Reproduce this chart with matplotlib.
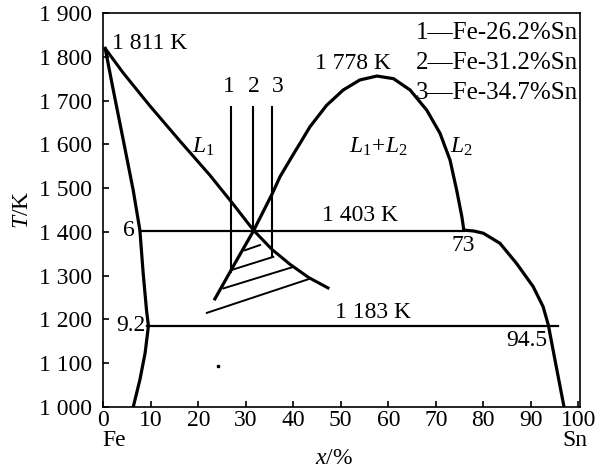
import matplotlib
matplotlib.use("Agg")
import matplotlib.pyplot as plt

plt.rcParams['font.family'] = ['Liberation Serif', 'DejaVu Serif']
plt.rcParams['mathtext.fontset'] = 'custom'
plt.rcParams['mathtext.rm'] = 'Liberation Serif'
plt.rcParams['mathtext.it'] = 'Liberation Serif:italic'
plt.rcParams['mathtext.bf'] = 'Liberation Serif:bold'

# ---- data ----
# Fe-rich liquidus L1 (with metastable extension)
l1_x = [0.4, 4.2, 9.8, 16.1, 22.4, 27.3, 31.6, 35.5, 39.3, 43.2, 47.3]
l1_t = [1819, 1763, 1688, 1608, 1530, 1464, 1404, 1360, 1326, 1296, 1272]

# miscibility gap dome (with metastable lower left branch)
dome_x = [23.5, 27.7, 31.6, 35.6, 37.2, 40.1, 41.4, 43.5, 47.0, 50.5, 54.0, 57.6,
          61.1, 64.6, 68.1, 70.9, 73.0, 74.4, 75.5, 75.9]
dome_t = [1247, 1328, 1402, 1488, 1526, 1579, 1602, 1640, 1689, 1724, 1747, 1756,
          1750, 1724, 1678, 1625, 1564, 1495, 1434, 1404]

# Sn-side liquidus from the monotectic to the eutectic and below
sn_x = [75.9, 78.0, 80.0, 83.5, 87.0, 90.5, 92.6, 93.7, 95.1, 97.0]
sn_t = [1404, 1402, 1397, 1374, 1328, 1275, 1229, 1187, 1107, 1000]

# Fe solid solution boundary
fe_x = [0.4, 2.1, 4.2, 6.3, 7.7, 8.4, 9.1, 9.5, 8.8, 7.7, 6.3]
fe_t = [1819, 1724, 1610, 1495, 1404, 1305, 1221, 1185, 1123, 1062, 1000]

# isotherms
iso_t = [1403, 1185]
iso_x0 = [7.7, 9.2]
iso_x1 = [75.9, 95.7]

# alloy composition lines 1, 2, 3
alloy_x = [26.9, 31.6, 35.6]
alloy_top = [1686, 1686, 1686]
alloy_bot = [1309, 1400, 1343]
alloy_lab = ['1', '2', '3']
alloy_lab_x = [26.5, 31.6, 36.8]
alloy_lab_t = [1733, 1733, 1733]

# tie lines (hatching)
tie_x0 = [29.8, 27.0, 25.3, 21.8]
tie_t0 = [1358, 1313, 1271, 1215]
tie_x1 = [33.0, 35.8, 40.0, 43.2]
tie_t1 = [1370, 1343, 1320, 1292]

# legend entries
legend_lines = ['1\u2014Fe-26.2%Sn', '2\u2014Fe-31.2%Sn', '3\u2014Fe-34.7%Sn']
legend_t = [1854, 1785, 1717]

x_ticks = [0, 10, 20, 30, 40, 50, 60, 70, 80, 90, 100]
x_labels = ['0', '10', '20', '30', '40', '50', '60', '70', '80', '90', '100']
y_ticks = [1000, 1100, 1200, 1300, 1400, 1500, 1600, 1700, 1800, 1900]
y_labels = ['1 000', '1 100', '1 200', '1 300', '1 400', '1 500', '1 600',
            '1 700', '1 800', '1 900']

# ---- figure ----
W, H = 595, 470
fig = plt.figure(figsize=(W / 100, H / 100), dpi=100)
ax = fig.add_axes([103.3 / W, (H - 407) / H, (580 - 103.3) / W, (407 - 13) / H])
ax.set_xlim(0, 100.36)
ax.set_ylim(1000, 1900)

k = 'black'
ax.plot(l1_x, l1_t, color=k, lw=2.2, solid_joinstyle='round')
ax.plot(dome_x, dome_t, color=k, lw=2.3, solid_joinstyle='round')
ax.plot(sn_x, sn_t, color=k, lw=2.3, solid_joinstyle='round')
ax.plot(fe_x, fe_t, color=k, lw=2.3, solid_joinstyle='round')
for t, a, b in zip(iso_t, iso_x0, iso_x1):
    ax.plot([a, b], [t, t], color=k, lw=1.6)
for x, t0, t1 in zip(alloy_x, alloy_top, alloy_bot):
    ax.plot([x, x], [t0, t1], color=k, lw=1.5)
for a, b, c, d in zip(tie_x0, tie_t0, tie_x1, tie_t1):
    ax.plot([a, c], [b, d], color=k, lw=1.4)
ax.plot([24.1], [1094], 's', color=k, ms=1.5)

fs = 17
for lab, x, t in zip(alloy_lab, alloy_lab_x, alloy_lab_t):
    ax.text(x, t, lab, ha='center', va='center', fontsize=fs)
for s, t in zip(legend_lines, legend_t):
    ax.text(99.9, t, s, ha='right', va='center', fontsize=18)

ax.text(1.8, 1831, '1 811 K', ha='left', va='center', fontsize=fs)
ax.text(44.6, 1785, '1 778 K', ha='left', va='center', fontsize=fs)
ax.text(54.0, 1438, '1 403 K', ha='center', va='center', fontsize=fs)
ax.text(48.8, 1215, '1 183 K', ha='left', va='center', fontsize=fs)
ax.text(21.0, 1594, '$L_1$', ha='center', va='center', fontsize=fs)
ax.text(57.9, 1594, '$L_1\\!+\\!L_2$', ha='center', va='center', fontsize=fs)
ax.text(75.3, 1594, '$L_2$', ha='center', va='center', fontsize=fs)
ax.text(5.4, 1404, '6', ha='center', va='center', fontsize=fs)
ax.text(75.7, 1370, '73', ha='center', va='center', fontsize=fs)
ax.text(5.9, 1187, '9.2', ha='center', va='center', fontsize=fs)
ax.text(93.4, 1151, '94.5', ha='right', va='center', fontsize=fs)

ax.set_xticks(x_ticks)
ax.set_xticklabels(x_labels)
ax.set_yticks(y_ticks)
ax.set_yticklabels(y_labels)
ax.tick_params(axis='both', direction='in', length=4, width=1.2,
               labelsize=fs, top=False, right=False)
ax.tick_params(axis='x', pad=2)
ax.tick_params(axis='y', pad=8)
for sp in ax.spines.values():
    sp.set_linewidth(1.2)

fig.text(22 / W, 1 - 210 / H, '$T$/K', rotation=90, ha='center', va='center', fontsize=fs)
fig.text(334 / W, 1 - 458 / H, '$x$/%', ha='center', va='center', fontsize=fs)
fig.text(114 / W, 1 - 440 / H, 'Fe', ha='center', va='center', fontsize=fs)
fig.text(575 / W, 1 - 441 / H, 'Sn', ha='center', va='center', fontsize=fs)

fig.savefig('out.png', dpi=100)
